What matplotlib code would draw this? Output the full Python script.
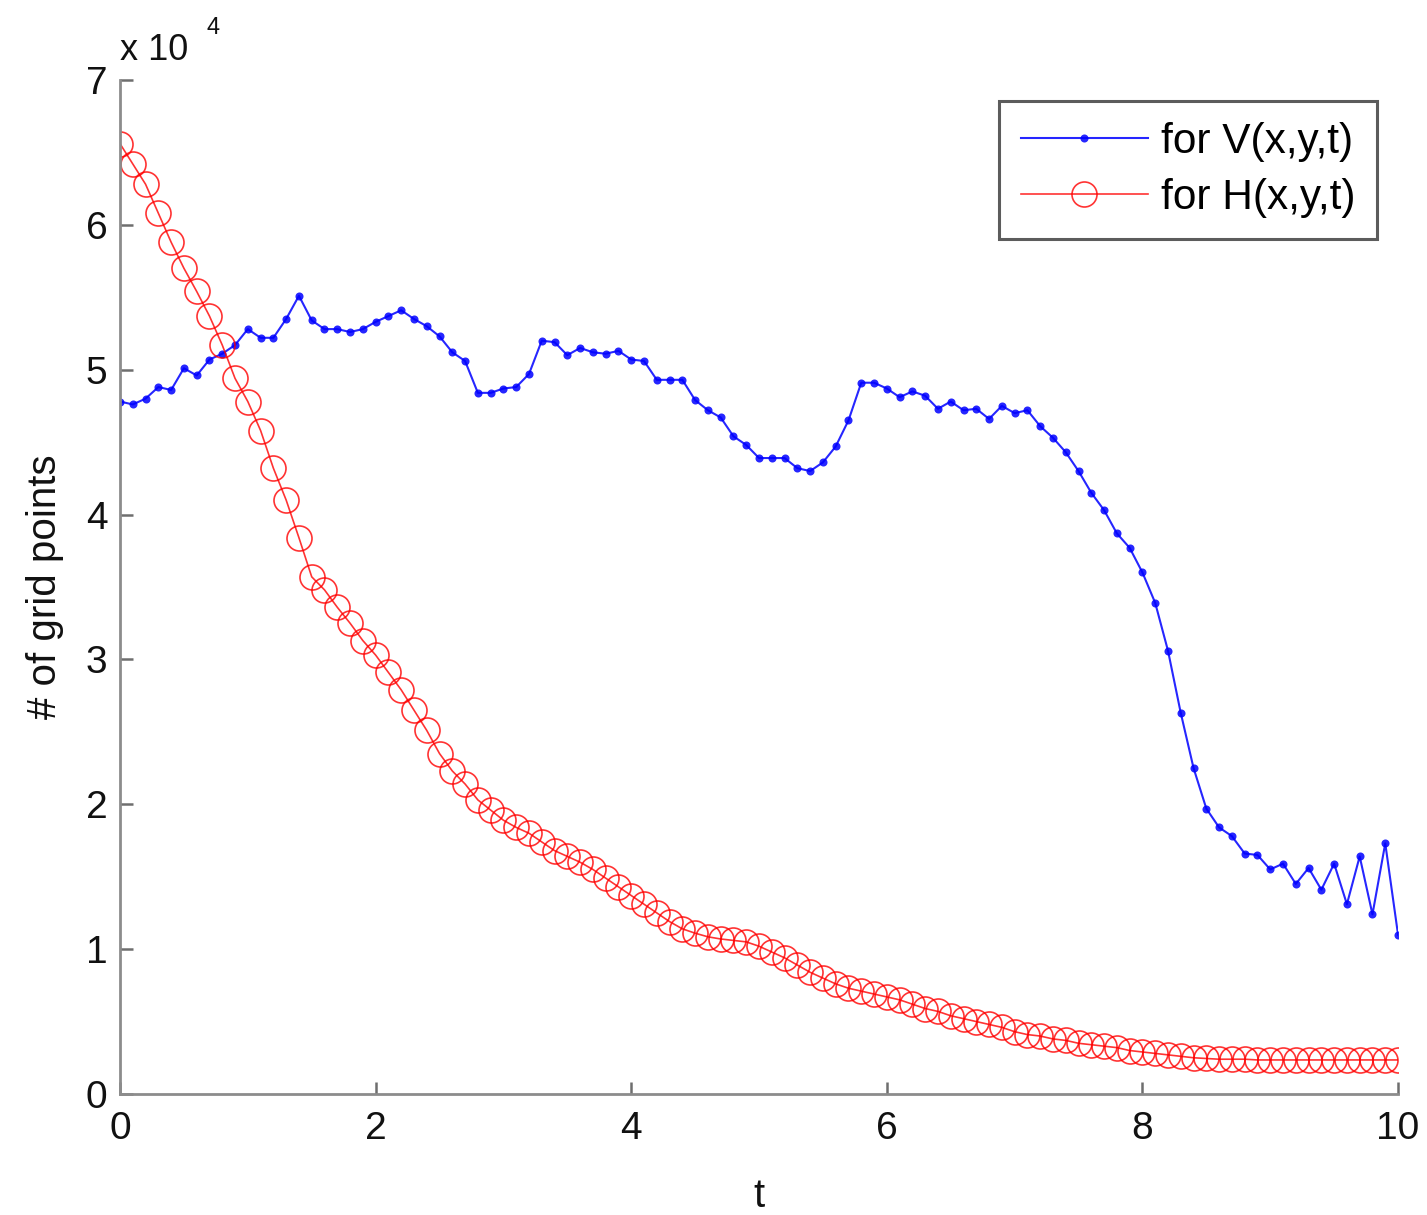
import numpy as np
import matplotlib
matplotlib.use("Agg")
import matplotlib.pyplot as plt

plt.rcParams['font.family'] = ['Liberation Sans', 'DejaVu Sans']

# Time samples, step 0.1 from 0 to 10
t = np.round(np.arange(0, 101) * 0.1, 1)

# Number of grid points (in units of 10^4)
v_points = [
    4.78, 4.76, 4.80, 4.88, 4.86, 5.01, 4.96, 5.07, 5.11, 5.17,
    5.28, 5.22, 5.22, 5.35, 5.51, 5.34, 5.28, 5.28, 5.26, 5.28,
    5.33, 5.37, 5.41, 5.35, 5.30, 5.23, 5.12, 5.06, 4.84, 4.84,
    4.87, 4.88, 4.97, 5.20, 5.19, 5.10, 5.15, 5.12, 5.11, 5.13,
    5.07, 5.06, 4.93, 4.93, 4.93, 4.79, 4.72, 4.67, 4.54, 4.48,
    4.39, 4.39, 4.39, 4.32, 4.30, 4.36, 4.47, 4.65, 4.91, 4.91,
    4.87, 4.81, 4.85, 4.82, 4.73, 4.78, 4.72, 4.73, 4.66, 4.75,
    4.70, 4.72, 4.61, 4.53, 4.43, 4.30, 4.15, 4.03, 3.87, 3.77,
    3.60, 3.39, 3.06, 2.63, 2.25, 1.97, 1.84, 1.78, 1.66, 1.65,
    1.55, 1.59, 1.45, 1.56, 1.41, 1.59, 1.31, 1.64, 1.24, 1.73,
    1.10,
]

h_points = [
    6.56, 6.42, 6.28, 6.08, 5.88, 5.70, 5.54, 5.37, 5.17, 4.94,
    4.78, 4.58, 4.32, 4.10, 3.84, 3.57, 3.48, 3.36, 3.25, 3.13,
    3.03, 2.91, 2.79, 2.65, 2.51, 2.35, 2.23, 2.14, 2.03, 1.96,
    1.89, 1.84, 1.80, 1.74, 1.68, 1.64, 1.60, 1.55, 1.49, 1.43,
    1.37, 1.31, 1.25, 1.19, 1.14, 1.11, 1.085, 1.07, 1.06, 1.05,
    1.02, 0.98, 0.94, 0.89, 0.84, 0.80, 0.76, 0.73, 0.71, 0.69,
    0.67, 0.65, 0.62, 0.59, 0.57, 0.54, 0.52, 0.50, 0.48, 0.46,
    0.43, 0.41, 0.40, 0.38, 0.37, 0.35, 0.34, 0.33, 0.32, 0.30,
    0.29, 0.28, 0.27, 0.26, 0.25, 0.245, 0.24, 0.24, 0.24, 0.235,
    0.235, 0.235, 0.235, 0.235, 0.235, 0.235, 0.235, 0.235, 0.235, 0.235,
    0.235,
]

x_ticks = [0, 2, 4, 6, 8, 10]
y_ticks = [0, 1, 2, 3, 4, 5, 6, 7]

fig = plt.figure(figsize=(14.27, 12.15), dpi=100)
ax = fig.add_axes([0.0841, 0.0996, 0.8956, 0.8346])

ax.plot(t, v_points, color='#0000ff', lw=1.5, marker='o', markersize=5.8,
        markeredgewidth=0, label='for V(x,y,t)', alpha=0.85)
ax.plot(t, h_points, color='#ff0000', lw=1.2, marker='o', markersize=18,
        markerfacecolor='none', markeredgewidth=1.2, label='for H(x,y,t)',
        alpha=0.8)

ax.set_xlim(0, 10)
ax.set_ylim(0, 7)
ax.set_xticks(x_ticks)
ax.set_yticks(y_ticks)
ax.set_xticklabels([str(v) for v in x_ticks])
ax.set_yticklabels([str(v) for v in y_ticks])

for side in ('top', 'right'):
    ax.spines[side].set_visible(False)
for side in ('left', 'bottom'):
    ax.spines[side].set_color('#8c8c8c')
    ax.spines[side].set_linewidth(2.0)

ax.tick_params(axis='both', direction='in', length=9, width=1.8,
               color='#6e6e6e', labelsize=28, labelcolor='#111111')
ax.tick_params(axis='x', pad=12)
ax.tick_params(axis='y', pad=9)

ax.set_xlabel('t', fontsize=29, labelpad=22, color='#111111')
ax.set_ylabel('# of grid points', fontsize=29, labelpad=16, color='#111111')

# Scale factor shown above the y axis
ax.text(0.0, 1.012, 'x 10', transform=ax.transAxes, fontsize=26,
        ha='left', va='bottom', color='#111111')
ax.text(0.068, 1.040, '4', transform=ax.transAxes, fontsize=17,
        ha='left', va='bottom', color='#111111')

leg = ax.legend(loc='upper right', fontsize=30.5, frameon=True, fancybox=False,
                handlelength=3.0, handletextpad=0.32, labelspacing=0.36,
                borderpad=0.5, borderaxespad=0.5, markerscale=1.0)
leg.get_frame().set_edgecolor('#333333')
leg.get_frame().set_linewidth(2.2)

fig.savefig('out.png', dpi=100, facecolor='white')
